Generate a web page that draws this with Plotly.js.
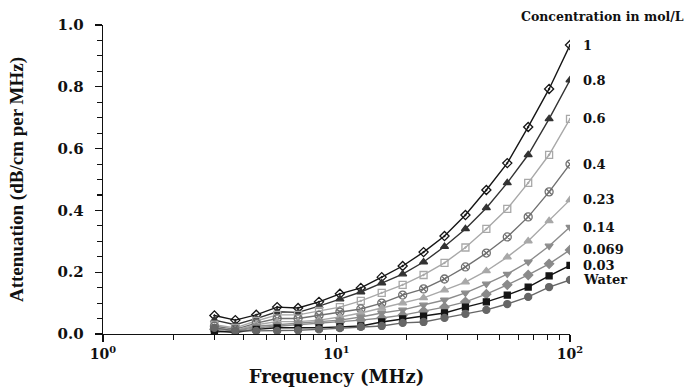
<!DOCTYPE html>
<html>
<head>
<meta charset="utf-8">
<script src="https://cdn.plot.ly/plotly-3.0.1.min.js"></script>
<style>html,body{margin:0;padding:0;background:#fff;}#chart{width:687px;height:387px;}</style>
</head>
<body>
<div id="chart"></div>
<script>
// Frequency points (MHz)
var freq = [3, 3.687, 4.532, 5.570, 6.846, 8.415, 10.34, 12.71, 15.62, 19.20, 23.60, 29.01, 35.66, 43.83, 53.87, 66.21, 81.38, 100];

// Series names (concentration in mol/L)
var names = ["1", "0.8", "0.6", "0.4", "0.23", "0.14", "0.069", "0.03", "Water"];

// Attenuation values (dB/cm per MHz)
var c1    = [0.060, 0.045, 0.062, 0.087, 0.084, 0.104, 0.130, 0.149, 0.184, 0.220, 0.265, 0.317, 0.385, 0.466, 0.553, 0.670, 0.793, 0.935];
var c08   = [0.045, 0.030, 0.050, 0.072, 0.070, 0.090, 0.113, 0.136, 0.165, 0.194, 0.233, 0.283, 0.340, 0.408, 0.489, 0.580, 0.696, 0.822];
var c06   = [0.030, 0.020, 0.042, 0.062, 0.062, 0.075, 0.087, 0.107, 0.133, 0.159, 0.191, 0.230, 0.280, 0.340, 0.405, 0.489, 0.580, 0.696];
var c04   = [0.025, 0.015, 0.035, 0.050, 0.050, 0.060, 0.071, 0.081, 0.100, 0.126, 0.146, 0.178, 0.217, 0.262, 0.314, 0.379, 0.460, 0.550];
var c023  = [0.020, 0.012, 0.030, 0.040, 0.040, 0.045, 0.055, 0.068, 0.084, 0.100, 0.117, 0.142, 0.168, 0.204, 0.249, 0.301, 0.366, 0.434];
var c014  = [0.005, 0.010, 0.025, 0.030, 0.035, 0.040, 0.045, 0.055, 0.068, 0.078, 0.094, 0.110, 0.133, 0.162, 0.194, 0.233, 0.285, 0.346];
var c0069 = [0.015, 0.010, 0.020, 0.025, 0.030, 0.035, 0.039, 0.045, 0.052, 0.061, 0.074, 0.087, 0.104, 0.129, 0.159, 0.191, 0.227, 0.272];
var c003  = [0.010, 0.005, 0.015, 0.020, 0.020, 0.020, 0.023, 0.026, 0.039, 0.049, 0.058, 0.068, 0.087, 0.104, 0.126, 0.152, 0.188, 0.222];
var water = [0.020, 0.010, 0.010, 0.010, 0.012, 0.015, 0.019, 0.023, 0.026, 0.036, 0.039, 0.052, 0.065, 0.078, 0.097, 0.120, 0.152, 0.175];

// Axis tick labels
var xTickVals = [1, 10, 100];
var xTickText = ["10<sup>0</sup>", "10<sup>1</sup>", "10<sup>2</sup>"];
var xMinorVals = [2,3,4,5,6,7,8,9,20,30,40,50,60,70,80,90];

var series = [c1, c08, c06, c04, c023, c014, c0069, c003, water];
var colors = ["#151515", "#333333", "#a8a8a8", "#707070", "#a8a8a8", "#8c8c8c", "#8a8a8a", "#151515", "#666666"];
var symbols = ["diamond-open-dot", "triangle-up", "square-open-dot", "circle-x-open", "triangle-up", "triangle-down", "diamond", "square", "circle"];
var sizes = [7, 7, 7, 8, 7, 7, 7, 6, 7];

var traces = series.map(function (ys, i) {
  return {
    x: freq, y: ys, name: names[i], type: "scatter", mode: "lines+markers",
    line: {color: colors[i], width: 1.4},
    marker: {symbol: symbols[i], size: sizes[i], color: colors[i], line: {color: colors[i], width: 1.3}},
    showlegend: false
  };
});

var annotations = series.map(function (ys, i) {
  return {
    x: Math.log10(freq[freq.length - 1]), y: ys[ys.length - 1], xref: "x", yref: "y",
    text: names[i], showarrow: false, xanchor: "left", yanchor: "middle", xshift: 11,
    font: {family: "DejaVu Serif", size: 13, color: "#111", weight: "bold"}
  };
});
annotations.push({
  x: 1.249, y: 1.027, xref: "paper", yref: "paper", text: "Concentration in mol/L",
  showarrow: false, xanchor: "right", yanchor: "middle",
  font: {family: "DejaVu Serif", size: 12.5, color: "#111", weight: "bold"}
});

var layout = {
  width: 687, height: 387,
  margin: {l: 103, r: 117, t: 25, b: 53},
  paper_bgcolor: "#fff", plot_bgcolor: "#fff",
  xaxis: {
    type: "log", range: [0, 2], autorange: false,
    tickmode: "array", tickvals: xTickVals, ticktext: xTickText,
    ticks: "outside", ticklen: 7, tickwidth: 1.2, tickcolor: "#111",
    minor: {tickmode: "array", tickvals: xMinorVals, ticks: "outside", ticklen: 5, tickwidth: 1.1, tickcolor: "#111", showgrid: false},
    showline: true, linecolor: "#111", linewidth: 1.3, showgrid: false, zeroline: false,
    tickfont: {family: "DejaVu Serif", size: 14, color: "#111", weight: "bold"},
    title: {text: "Frequency (MHz)", font: {family: "DejaVu Serif", size: 18, color: "#111", weight: "bold"}, standoff: 12},
    automargin: false
  },
  yaxis: {
    range: [0, 1.0], autorange: false,
    tickmode: "linear", tick0: 0, dtick: 0.2, tickformat: ".1f",
    ticks: "outside", ticklen: 7, tickwidth: 1.2, tickcolor: "#111",
    minor: {dtick: 0.05, ticks: "outside", ticklen: 5, tickwidth: 1.1, tickcolor: "#111", showgrid: false},
    ticklabelstandoff: 8,
    showline: true, linecolor: "#111", linewidth: 1.3, showgrid: false, zeroline: false,
    tickfont: {family: "DejaVu Serif", size: 15, color: "#111", weight: "bold"},
    title: {text: "Attenuation (dB/cm per MHz)", font: {family: "Liberation Serif", size: 19, color: "#111", weight: "bold"}, standoff: 29},
    automargin: false
  },
  annotations: annotations
};

Plotly.newPlot("chart", traces, layout, {displayModeBar: false, staticPlot: true});
</script>
</body>
</html>
